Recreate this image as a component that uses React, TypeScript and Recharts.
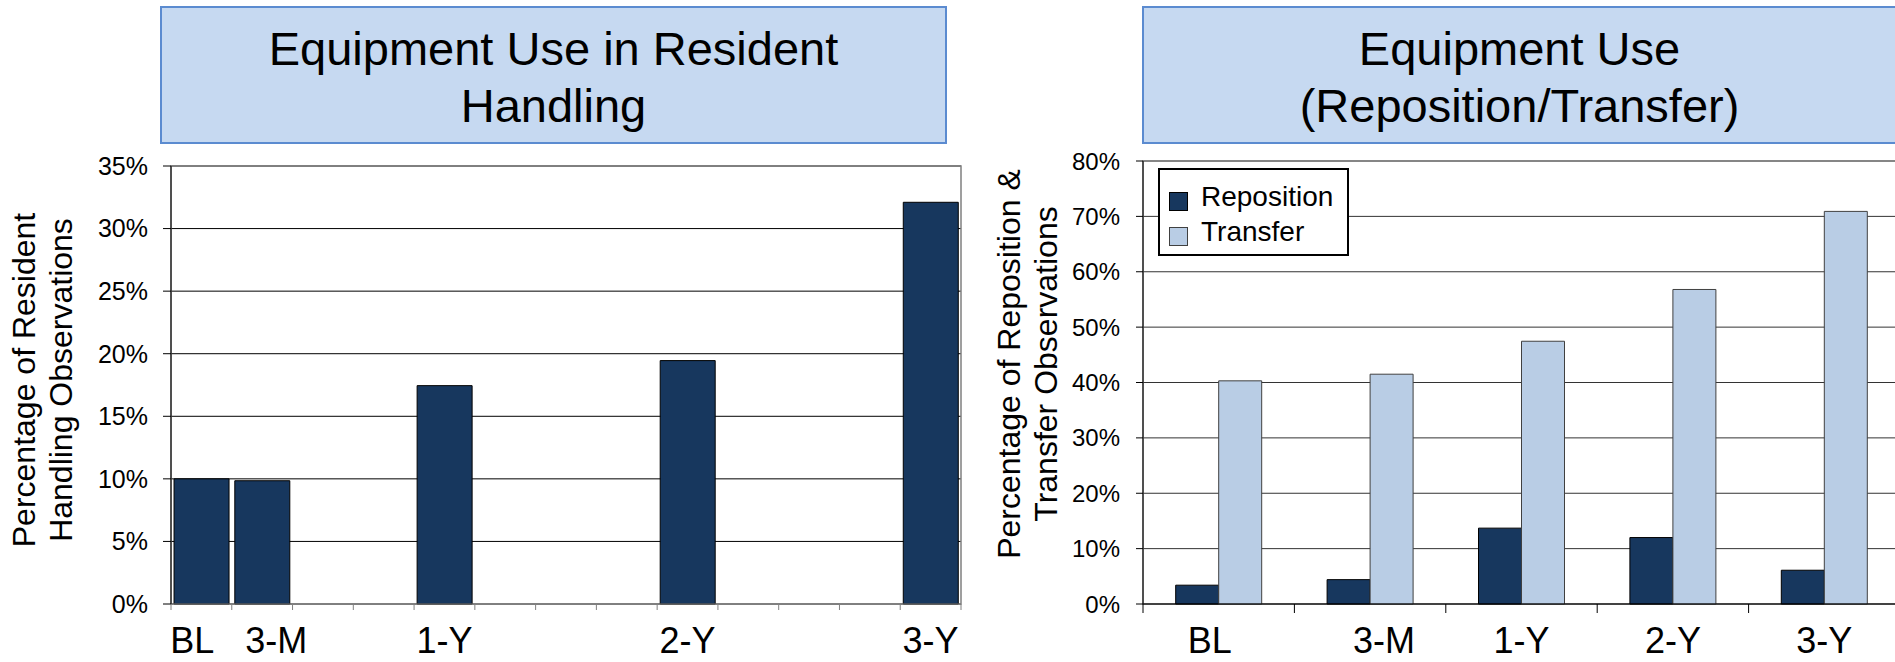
import React from 'react';
import { Bar, BarChart, CartesianGrid, Label, Legend, ReferenceArea, XAxis, YAxis } from 'recharts';

// Left panel: resident handling observations, one slot per quarter (months since baseline)
const HANDLING_MONTHS = [0, 3, 6, 9, 12, 15, 18, 21, 24, 27, 30, 33, 36];
const HANDLING_EQUIPMENT = [10.0, 9.85, null, null, 17.45, null, null, null, 19.45, null, null, null, 32.1];
const HANDLING_TICK_LABELS: Record<number, string> = { 0: 'BL', 3: '3-M', 12: '1-Y', 24: '2-Y', 36: '3-Y' };
const HANDLING_Y_TICKS = [0, 5, 10, 15, 20, 25, 30, 35];

// Right panel: reposition vs transfer
const TRANSFER_PERIODS = ['BL', '3-M', '1-Y', '2-Y', '3-Y'];
const REPOSITION_VALUES = [3.4, 4.4, 13.7, 12.0, 6.1];
const TRANSFER_VALUES = [40.3, 41.5, 47.45, 56.8, 70.9];
const TRANSFER_Y_TICKS = [0, 10, 20, 30, 40, 50, 60, 70, 80];

const FONT = '"Liberation Sans", Arial, Helvetica, sans-serif';
const DARK = '#17375E';
const LIGHT = '#B9CDE5';
const AXIS_Y = 604;

// BL and 3-M sit in neighbouring slots, so their labels are pushed apart a little
const LABEL_NUDGE: Record<string, number> = { BL: -9, '3-M': 14 };

const handlingData = HANDLING_MONTHS.map((month, i) => ({ month, equipment: HANDLING_EQUIPMENT[i] }));
const transferData = TRANSFER_PERIODS.map((period, i) => ({
  period,
  reposition: REPOSITION_VALUES[i],
  transfer: TRANSFER_VALUES[i],
}));

const pct = (v: number) => `${v}%`;

const makeBoundaryTick =
  (count: number, fallbackHalf: number, tickLen: number, stroke: string, labelOf: (v: any) => string) =>
  (props: any) => {
    const { x, payload, index } = props;
    const half = payload.offset ?? fallbackHalf;
    const label = labelOf(payload.value);
    const last = index === count - 1;
    return (
      <g>
        <line x1={x - half} x2={x - half} y1={AXIS_Y} y2={AXIS_Y + tickLen} stroke={stroke} />
        {last && <line x1={x + half} x2={x + half} y1={AXIS_Y} y2={AXIS_Y + tickLen} stroke={stroke} />}
        <text x={x + (LABEL_NUDGE[label] ?? 0)} y={AXIS_Y + 49} textAnchor='middle' fontSize={36} fill='#000'>
          {label}
        </text>
      </g>
    );
  };

const handlingTick = makeBoundaryTick(HANDLING_MONTHS.length, 30.4, 6, '#808080', (v) => HANDLING_TICK_LABELS[v] ?? '');
const transferTick = makeBoundaryTick(TRANSFER_PERIODS.length, 75.7, 9, '#000', (v) => String(v));

const axisTitle = (lines: string[], baselines: number[], cy: number) => () =>
  (
    <g>
      {lines.map((line, i) => (
        <text
          key={line}
          x={baselines[i]}
          y={cy}
          transform={`rotate(-90 ${baselines[i]} ${cy})`}
          textAnchor='middle'
          fontSize={32}
          fill='#000'
        >
          {line}
        </text>
      ))}
    </g>
  );

const TransferLegend = ({ payload }: any) => (
  <div
    style={{
      position: 'relative',
      width: 191,
      height: 88,
      boxSizing: 'border-box',
      border: '2px solid #000',
      background: '#fff',
      fontSize: 28,
      lineHeight: '34px',
      color: '#000',
    }}
  >
    {(payload || []).map((entry: any, i: number) => (
      <div key={entry.value} style={{ position: 'absolute', left: 0, top: 10 + i * 35, height: 34, width: '100%' }}>
        <div
          style={{
            position: 'absolute',
            left: 9,
            top: 12,
            width: 19,
            height: 19,
            boxSizing: 'border-box',
            background: entry.color,
            border: `1px solid ${entry.payload?.stroke ?? '#000'}`,
          }}
        />
        <span style={{ position: 'absolute', left: 41, top: 0, whiteSpace: 'nowrap' }}>{entry.value}</span>
      </div>
    ))}
  </div>
);

const titleBox = (left: number, width: number): React.CSSProperties => ({
  position: 'absolute',
  left,
  top: 6,
  width,
  height: 138,
  boxSizing: 'border-box',
  background: '#C6D9F1',
  border: '2px solid #5B8BD0',
  textAlign: 'center',
  fontSize: 47,
  lineHeight: '57px',
  paddingTop: 12,
  color: '#000',
});

export default function App() {
  return (
    <div
      style={{
        position: 'absolute',
        left: 0,
        top: 0,
        width: 1895,
        height: 662,
        overflow: 'hidden',
        background: '#fff',
        fontFamily: FONT,
      }}
    >
      <div style={titleBox(160, 787)}>
        Equipment Use in Resident
        <br />
        Handling
      </div>
      <div style={titleBox(1142, 755)}>
        Equipment Use
        <br />
        (Reposition/Transfer)
      </div>

      <div style={{ position: 'absolute', left: 0, top: 0 }}>
        <BarChart
          width={970}
          height={662}
          data={handlingData}
          margin={{ top: 166, right: 9, bottom: 0, left: 111 }}
          barCategoryGap='5%'
        >
          <CartesianGrid vertical={false} stroke='#000' />
          <ReferenceArea x1={0} x2={36} y1={0} y2={35} fill='none' stroke='#808080' strokeWidth={1.5} />
          <XAxis
            dataKey='month'
            type='category'
            height={58}
            interval={0}
            tickLine={false}
            axisLine={{ stroke: '#808080' }}
            tick={handlingTick}
          />
          <YAxis
            width={60}
            domain={[0, 35]}
            ticks={HANDLING_Y_TICKS}
            tickFormatter={pct}
            tickSize={8}
            tickMargin={15}
            tick={{ fill: '#000', fontSize: 25 }}
            axisLine={{ stroke: '#000' }}
            tickLine={{ stroke: '#000' }}
          >
            <Label
              content={axisTitle(['Percentage of Resident', 'Handling Observations'], [35, 72], 380)}
            />
          </YAxis>
          <Bar dataKey='equipment' fill={DARK} stroke='#000' strokeWidth={1} isAnimationActive={false} />
        </BarChart>
      </div>

      <div style={{ position: 'absolute', left: 980, top: 0 }}>
        <BarChart
          width={920}
          height={662}
          data={transferData}
          margin={{ top: 161, right: 0, bottom: 0, left: 103 }}
          barCategoryGap='21.6%'
          barGap={0}
        >
          <CartesianGrid vertical={false} stroke='#333' />
          <ReferenceArea
            x1='BL'
            x2='3-Y'
            y1={0}
            y2={80}
            fill='none'
            stroke='#808080'
            strokeWidth={1.5}
          />
          <XAxis
            dataKey='period'
            type='category'
            height={58}
            interval={0}
            tickLine={false}
            axisLine={{ stroke: '#000' }}
            tick={transferTick}
          />
          <YAxis
            width={60}
            domain={[0, 80]}
            ticks={TRANSFER_Y_TICKS}
            tickFormatter={pct}
            tickSize={7}
            tickMargin={16}
            tick={{ fill: '#000', fontSize: 24 }}
            axisLine={{ stroke: '#000' }}
            tickLine={{ stroke: '#000' }}
          >
            <Label
              content={axisTitle(['Percentage of Reposition &', 'Transfer Observations'], [40, 77], 364)}
            />
          </YAxis>
          <Legend
            layout='horizontal'
            align='center'
            verticalAlign='middle'
            wrapperStyle={{ left: 178, top: 168, width: 191, height: 88 }}
            content={<TransferLegend />}
          />
          <Bar dataKey='reposition' name='Reposition' fill={DARK} stroke='#000' strokeWidth={1} isAnimationActive={false} />
          <Bar dataKey='transfer' name='Transfer' fill={LIGHT} stroke='#404040' strokeWidth={1} isAnimationActive={false} />
        </BarChart>
      </div>
    </div>
  );
}
